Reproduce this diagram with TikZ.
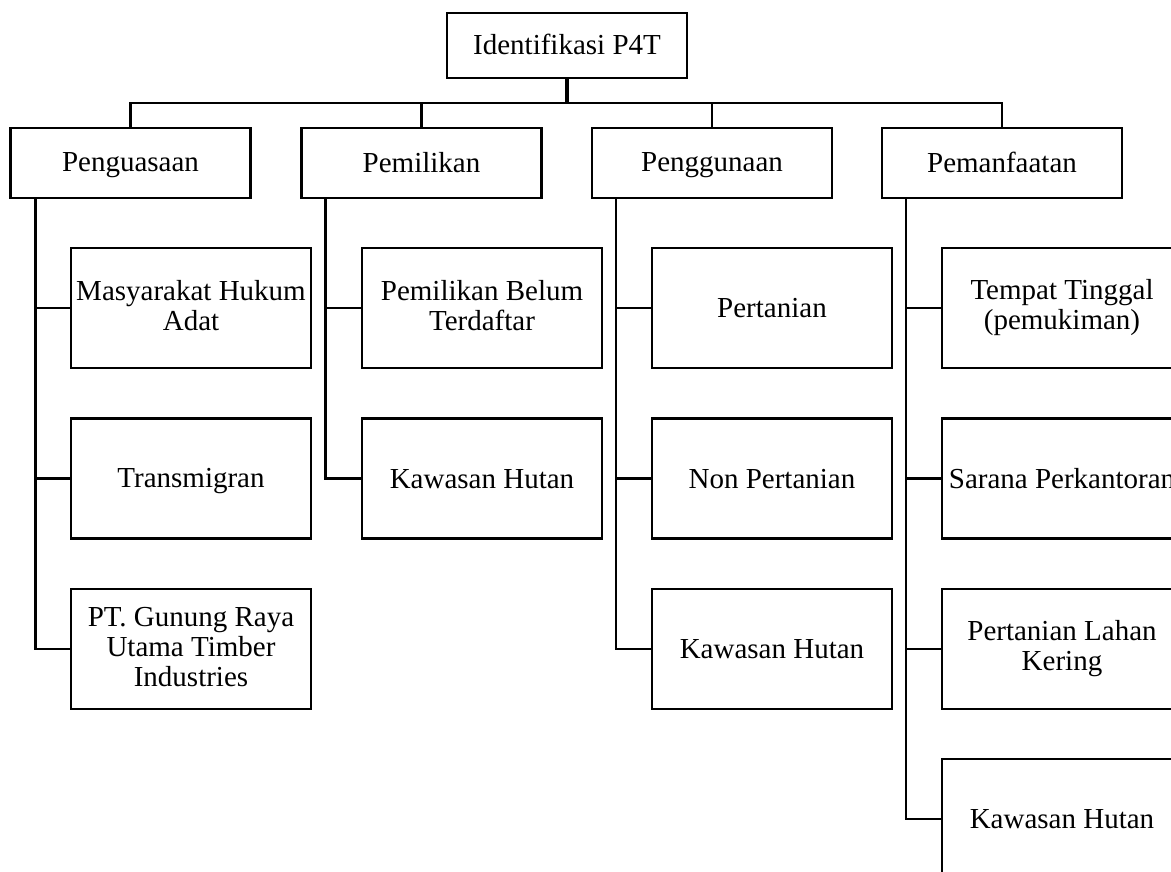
\documentclass[tikz,border=0pt]{standalone}
\usepackage{fontspec}
\setmainfont{Liberation Serif}
\usepackage{tikz}
\usetikzlibrary{calc}
\tikzset{
    kotak/.style={draw=black, line width=2.4pt, minimum width=240pt, inner sep=0pt, align=center,
        font=\fontsize{29}{30}\selectfont,
        execute at begin node={\rule{0pt}{24pt}}, execute at end node={\rule[-5pt]{0pt}{5pt}}},
    induk/.style={kotak, minimum height=70pt},
    anak/.style={kotak, minimum height=120pt},
    garis/.style={draw=black, line width=2.4pt}
}

\begin{document}
\begin{tikzpicture}[x=1pt, y=-1pt]
    \useasboundingbox (0,0) rectangle (1171,872);
    % puncak dan aspek
    \node[kotak, minimum height=65pt] (p4t) at (567,45.5) {Identifikasi P4T};
    \node[induk] (kuasa) at (130.5,163) {Penguasaan};
    \node[induk] (milik) at (421.5,163) {Pemilikan};
    \node[induk] (guna) at (712,163) {Penggunaan};
    \node[induk] (manfaat) at (1002,163) {Pemanfaatan};
    % rincian
    \node[anak] (adat) at (191,308) {Masyarakat Hukum\\Adat};
    \node[anak] (trans) at (191,478.5) {Transmigran};
    \node[anak] (pt) at (191,649) {PT. Gunung Raya\\Utama Timber\\Industries};
    \node[anak] (belum) at (482,308) {Pemilikan Belum\\Terdaftar};
    \node[anak] (hutan1) at (482,478.5) {Kawasan Hutan};
    \node[anak] (tani) at (772,308) {Pertanian};
    \node[anak] (nontani) at (772,478.5) {Non Pertanian};
    \node[anak] (hutan2) at (772,649) {Kawasan Hutan};
    \node[anak] (tinggal) at (1062,308) {Tempat Tinggal\\(pemukiman)};
    \node[anak] (kantor) at (1062,478.5) {Sarana Perkantoran};
    \node[anak] (kering) at (1062,649) {Pertanian Lahan\\Kering};
    \node[anak] (hutan3) at (1062,819) {Kawasan Hutan};
    % garis hubung
    \coordinate (bus) at (567,103);
    \draw[garis, line width=3.4pt] (p4t.south) -- (bus);
    \draw[garis] (kuasa.north) |- (bus) -| (manfaat.north);
    \draw[garis] (milik.north) -- (milik.north |- bus);
    \draw[garis] (guna.north) -- (guna.north |- bus);
    \draw[garis] ([xshift=26pt]kuasa.south west) |- (adat.west);
    \draw[garis] ([xshift=26pt]kuasa.south west) |- (trans.west);
    \draw[garis] ([xshift=26pt]kuasa.south west) |- (pt.west);
    \draw[garis] ([xshift=25pt]milik.south west) |- (belum.west);
    \draw[garis] ([xshift=25pt]milik.south west) |- (hutan1.west);
    \draw[garis] ([xshift=25pt]guna.south west) |- (tani.west);
    \draw[garis] ([xshift=25pt]guna.south west) |- (nontani.west);
    \draw[garis] ([xshift=25pt]guna.south west) |- (hutan2.west);
    \draw[garis] ([xshift=25pt]manfaat.south west) |- (tinggal.west);
    \draw[garis] ([xshift=25pt]manfaat.south west) |- (kantor.west);
    \draw[garis] ([xshift=25pt]manfaat.south west) |- (kering.west);
    \draw[garis] ([xshift=25pt]manfaat.south west) |- (hutan3.west);
\end{tikzpicture}
\end{document}
